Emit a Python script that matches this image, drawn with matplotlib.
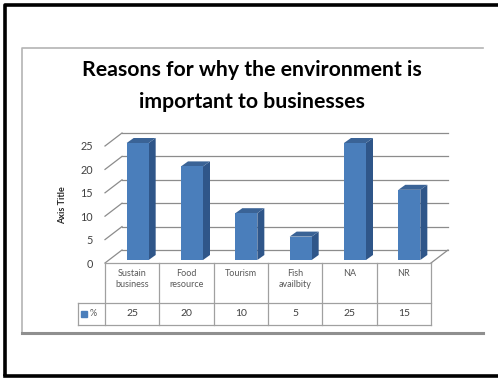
import matplotlib
matplotlib.use("Agg")
import matplotlib.pyplot as plt
from matplotlib.patches import Polygon

plt.rcParams['font.family'] = ['Lato', 'DejaVu Sans']

# chart data
categories = ["Sustain\nbusiness", "Food\nresource", "Tourism", "Fish\navailbity", "NA", "NR"]
values = [25, 20, 10, 5, 25, 15]
series_name = "%"
yticks = [0, 5, 10, 15, 20, 25]
title = "Reasons for why the environment is\nimportant to businesses"

W, H = 498, 378
fig = plt.figure(figsize=(W / 100, H / 100), dpi=100)

# background layer in pixel units for the two frames
bg = fig.add_axes([0, 0, 1, 1])
bg.set_xlim(0, W)
bg.set_ylim(H, 0)
bg.axis("off")
bg.plot([5, 5, 520], [376, 5, 5], color="black", lw=2.6, solid_capstyle="butt")
bg.plot([5, 520], [376, 376], color="black", lw=2.6)
bg.plot([22, 22, 483], [333, 48, 48], color="#b4b4b4", lw=1.2)
bg.plot([22, 483], [333, 333], color="#8f8f8f", lw=2.2)

# 3d look: full depth of the walls, bar offset and bar depth (data units)
PXX, PXY = 54.33, 4.68          # pixels per data unit
DX, DY = 17 / PXX, 13 / PXY
BOX, BOY = 5.5 / PXX, 3 / PXY
BDX, BDY = 7 / PXX, 5 / PXY
BW = 22 / PXX

n = len(values)
ax = fig.add_axes([105 / W, 115 / H, 343 / W, 130 / H])
ax.set_xlim(-0.5, n - 0.5 + DX)
ax.set_ylim(0, yticks[-1] + DY)
for s in ax.spines.values():
    s.set_visible(False)
ax.set_xticks([])
ax.set_yticks(yticks)
ax.set_yticklabels([str(t) for t in yticks], color="#404040", fontsize=7.8)
ax.tick_params(axis="y", length=0, pad=8.5)

grid_kw = dict(color="#8c8c8c", lw=0.9, clip_on=False)
for t in yticks:
    ax.plot([-0.5 + DX, n - 0.5 + DX], [t + DY, t + DY], **grid_kw)
    ax.plot([-0.5, -0.5 + DX], [t, t + DY], **grid_kw)
ax.plot([n - 0.5, n - 0.5 + DX], [0, DY], **grid_kw)

for i, v in enumerate(values):
    x0 = i - BW / 2 + BOX
    y0 = BOY
    front = [(x0, y0), (x0 + BW, y0), (x0 + BW, v + y0), (x0, v + y0)]
    side = [(x0 + BW, y0), (x0 + BW + BDX, y0 + BDY),
            (x0 + BW + BDX, v + y0 + BDY), (x0 + BW, v + y0)]
    top = [(x0, v + y0), (x0 + BW, v + y0),
           (x0 + BW + BDX, v + y0 + BDY), (x0 + BDX, v + y0 + BDY)]
    ax.add_patch(Polygon(side, closed=True, fc="#2f5689", ec="none", zorder=3))
    ax.add_patch(Polygon(top, closed=True, fc="#3a6396", ec="none", zorder=3))
    ax.add_patch(Polygon(front, closed=True, fc="#4a7ebb", ec="none", zorder=4))

# data table under the plot
tb = fig.add_axes([78 / W, 53 / H, 353 / W, 62 / H])
xl = -0.5 - 27 / PXX
tb.set_xlim(xl, n - 0.5)
tb.set_ylim(0, 62)
tb.axis("off")
line_kw = dict(color="#a0a0a0", lw=0.9, clip_on=False)
tb.plot([-0.5, n - 0.5], [62, 62], **line_kw)
tb.plot([xl, n - 0.5], [22, 22], **line_kw)
tb.plot([xl, n - 0.5], [0, 0], **line_kw)
tb.plot([xl, xl], [0, 22], **line_kw)
for i in range(n + 1):
    tb.plot([i - 0.5, i - 0.5], [0, 62], **line_kw)
for i, (c, v) in enumerate(zip(categories, values)):
    tb.text(i, 56, c, ha="center", va="top", fontsize=6.5, color="#595959",
            linespacing=1.25)
    tb.text(i, 11, str(v), ha="center", va="center", fontsize=7.5, color="#404040")
tb.plot([xl + 6 / PXX], [11], marker="s", ms=4.2, color="#4a7ebb", clip_on=False)
tb.text(xl + 11.5 / PXX, 11, series_name, ha="left", va="center", fontsize=6.5,
        color="#595959")

fig.text(63 / W, 1 - 205 / H, "Axis Title", rotation=90, ha="center", va="center",
         fontsize=6.5, fontweight="bold", color="#262626")
fig.text(252 / W, 1 - 86 / H, title, ha="center", va="center", fontsize=15.3,
         fontweight="bold", color="black", linespacing=1.7)

fig.savefig("out.png", dpi=100)
